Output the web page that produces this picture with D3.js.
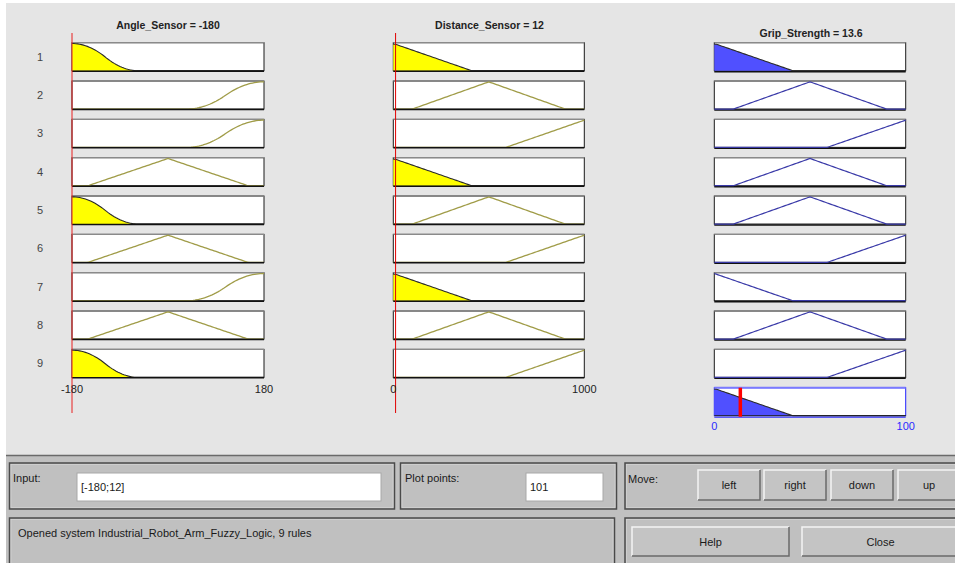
<!DOCTYPE html>
<html><head><meta charset="utf-8">
<script src="https://cdn.jsdelivr.net/npm/d3@7"></script>
<style>
body{margin:0;background:#fff;}
svg{display:block;font-family:"Liberation Sans",Arial,sans-serif;}
</style>
</head><body>
<svg id="c" width="955" height="563"></svg>
<script>
// ---------- data ----------
const ruleIds = [1,2,3,4,5,6,7,8,9];
const ruleAngleMF = ["neg","pos","pos","zero","neg","zero","pos","zero","neg"];
const ruleDistanceMF = ["near","medium","far","near","medium","far","near","medium","far"];
const ruleGripMF = ["low","medium","high","medium","medium","high","low","medium","high"];

const angleNames = ["neg","zero","pos"];
const angleTypes = ["zmf","trimf","smf"];
const angleParams = [[-180,-55],[-150,0,150],[35,180]];
const distanceNames = ["near","medium","far"];
const distanceTypes = ["trimf","trimf","trimf"];
const distanceParams = [[-410,0,410],[100,500,900],[590,1000,1400]];
const gripNames = ["low","medium","high"];
const gripTypes = ["trimf","trimf","trimf"];
const gripParams = [[-41,0,41],[10,50,90],[59,100,141]];

const angleRange = [-180,180];
const distanceRange = [0,1000];
const gripRange = [0,100];
const angleTickLabels = ["-180","180"];
const distanceTickLabels = ["0","1000"];
const gripTickLabels = ["0","100"];

const inputValues = [-180, 12];
const outputValue = 13.6;
const plotPoints = 101;
const titles = ["Angle_Sensor = -180","Distance_Sensor = 12","Grip_Strength = 13.6"];
const statusText = "Opened system Industrial_Robot_Arm_Fuzzy_Logic, 9 rules";
const moveButtons = ["left","right","down","up"];

// ---------- membership functions ----------
function mf(type, p, x){
  if(type==="trimf"){
    const [a,b,c]=p;
    let l = (b===a)? (x>=a?1:0) : (x-a)/(b-a);
    let r = (c===b)? (x<=c?1:0) : (c-x)/(c-b);
    return Math.max(0, Math.min(l, r, 1));
  }
  if(type==="zmf"){
    const [a,b]=p, m=(a+b)/2;
    if(x<=a) return 1;
    if(x<=m) return 1-2*Math.pow((x-a)/(b-a),2);
    if(x<=b) return 2*Math.pow((x-b)/(b-a),2);
    return 0;
  }
  if(type==="smf"){
    const [a,b]=p, m=(a+b)/2;
    if(x<=a) return 0;
    if(x<=m) return 2*Math.pow((x-a)/(b-a),2);
    if(x<=b) return 1-2*Math.pow((x-b)/(b-a),2);
    return 1;
  }
  return 0;
}
function getMF(names, types, params, name){
  const i = names.indexOf(name);
  return x => mf(types[i], params[i], x);
}
function samples(range){
  return d3.range(plotPoints).map(i => range[0] + (range[1]-range[0])*i/(plotPoints-1));
}

// ---------- layout ----------
const svg = d3.select("#c");
svg.append("rect").attr("x",6).attr("y",3).attr("width",949).attr("height",452).attr("fill","#e5e5e5");
svg.append("rect").attr("x",6).attr("y",455).attr("width",949).attr("height",108).attr("fill","#c0c0c0");
svg.append("line").attr("x1",6).attr("x2",955).attr("y1",455.5).attr("y2",455.5).attr("stroke","#6a6a6a").attr("stroke-width",1.5);

const xA = d3.scaleLinear().domain(angleRange).range([72,264]);
const xD = d3.scaleLinear().domain(distanceRange).range([393.3,584.3]);
const xG = d3.scaleLinear().domain(gripRange).range([714.3,905.7]);
const rowTop = d3.scaleLinear().domain([0,9]).range([42.7,387.7]);
const boxH = 28;

const firingA = ruleAngleMF.map(n => getMF(angleNames,angleTypes,angleParams,n)(inputValues[0]));
const firingD = ruleDistanceMF.map(n => getMF(distanceNames,distanceTypes,distanceParams,n)(inputValues[1]));
const firing = firingA.map((v,i)=>Math.min(v, firingD[i]));

function drawBox(x, r, lineColor, fillColor, fn, level, isOut){
  const top = rowTop(r), bot = top+boxH;
  const y = d3.scaleLinear().domain([0,1]).range([bot, top+0.8]);
  const g = svg.append("g");
  const x0 = x.range()[0], x1 = x.range()[1];
  g.append("rect").attr("x",x0).attr("y",top).attr("width",x1-x0).attr("height",boxH)
    .attr("fill","#fff").attr("stroke","#1a1a1a").attr("stroke-width",1);
  g.append("line").attr("x1",x0).attr("x2",x1).attr("y1",top).attr("y2",top).attr("stroke","#8a8a8a").attr("stroke-width",1.3);
  if(isOut){
    g.append("line").attr("x1",x0).attr("x2",x1).attr("y1",bot+1).attr("y2",bot+1).attr("stroke","#111").attr("stroke-width",1.5);
  }
  const xs = samples(x.domain());
  const line = d3.line().x(d=>x(d[0])).y(d=>y(d[1]));
  const area = d3.area().x(d=>x(d[0])).y0(bot).y1(d=>y(d[1]));
  if(level>0){
    const pts = xs.map(v=>[v, Math.min(level, fn(v))]);
    g.append("path").attr("d",area(pts)).attr("fill",fillColor).attr("stroke","none");
    g.append("path").attr("d",line(pts)).attr("fill","none").attr("stroke","#2a2a2a").attr("stroke-width",1.1);
  } else {
    const pts = xs.map(v=>[v, fn(v)]);
    g.append("path").attr("d",line(pts)).attr("fill","none").attr("stroke",lineColor).attr("stroke-width",isOut?1.2:1.3);
  }
  if(!isOut){
    g.append("line").attr("x1",x0).attr("x2",x1).attr("y1",bot+0.5).attr("y2",bot+0.5).attr("stroke","#111").attr("stroke-width",1.5);
  }
}

ruleIds.forEach((id,r)=>{
  const fa = getMF(angleNames,angleTypes,angleParams,ruleAngleMF[r]);
  drawBox(xA,r,"#a09c48","#ffff00",fa,firingA[r],false);
  const fd = getMF(distanceNames,distanceTypes,distanceParams,ruleDistanceMF[r]);
  drawBox(xD,r,"#a09c48","#ffff00",fd,firingD[r],false);
  const fg = getMF(gripNames,gripTypes,gripParams,ruleGripMF[r]);
  drawBox(xG,r,"#3a3aa8","#5050ff",fg,firing[r],true);
  svg.append("text").attr("x",40).attr("y",rowTop(r)+boxH/2+4).attr("text-anchor","middle")
    .attr("font-size",11).attr("fill","#444").text(id);
});

// aggregate output
{
  const top = rowTop(9), bot = top+boxH;
  const y = d3.scaleLinear().domain([0,1]).range([bot, top+0.8]);
  const xs = samples(gripRange);
  const pts = xs.map(v=>[v, d3.max(ruleIds, (id,i)=>Math.min(firing[i], getMF(gripNames,gripTypes,gripParams,ruleGripMF[i])(v)))]);
  svg.append("rect").attr("x",xG.range()[0]).attr("y",top).attr("width",xG.range()[1]-xG.range()[0]).attr("height",boxH)
    .attr("fill","#fff").attr("stroke","#2020ff").attr("stroke-width",1);
  svg.append("line").attr("x1",xG.range()[0]).attr("x2",xG.range()[1]).attr("y1",top).attr("y2",top).attr("stroke","#7a7aff").attr("stroke-width",2);
  svg.append("path").attr("d",d3.area().x(d=>xG(d[0])).y0(bot).y1(d=>y(d[1]))(pts)).attr("fill","#5050ff");
  svg.append("path").attr("d",d3.line().x(d=>xG(d[0])).y(d=>y(d[1]))(pts)).attr("fill","none").attr("stroke","#2a2a2a").attr("stroke-width",1.1);
  svg.append("line").attr("x1",xG.range()[0]).attr("x2",xG.range()[1]).attr("y1",bot).attr("y2",bot).attr("stroke","#222").attr("stroke-width",1);
  svg.append("line").attr("x1",xG.range()[0]).attr("x2",xG.range()[1]).attr("y1",bot+1.5).attr("y2",bot+1.5).attr("stroke","#2020ff").attr("stroke-width",1);
  svg.append("line").attr("x1",xG(outputValue)).attr("x2",xG(outputValue)).attr("y1",top).attr("y2",bot+1)
    .attr("stroke","#ff0000").attr("stroke-width",3.5);
}

// input red lines
svg.append("line").attr("x1",xA(inputValues[0])).attr("x2",xA(inputValues[0])).attr("y1",33).attr("y2",413).attr("stroke","#e82020").attr("stroke-width",1);
svg.append("line").attr("x1",xD(inputValues[1])).attr("x2",xD(inputValues[1])).attr("y1",33).attr("y2",413).attr("stroke","#e00000").attr("stroke-width",1);

// titles
const titleX = [168, 489.5, 811];
const titleY = [29, 29, 37];
titles.forEach((t,i)=>svg.append("text").attr("x",titleX[i]).attr("y",titleY[i]).attr("text-anchor","middle")
  .attr("font-size",10.5).attr("font-weight","bold").attr("fill","#222").text(t));

// tick labels
function ticks(x, labels, yv, color){
  x.domain().forEach((d,i)=>svg.append("text").attr("x",x(d)).attr("y",yv).attr("text-anchor","middle")
    .attr("font-size",11).attr("fill",color).text(labels[i]));
}
ticks(xA, angleTickLabels, 393, "#222");
ticks(xD, distanceTickLabels, 393, "#222");
ticks(xG, gripTickLabels, 430, "#2a2aff");

// ---------- bottom controls ----------
function panel(x,y,w,h){
  svg.append("rect").attr("x",x).attr("y",y).attr("width",w).attr("height",h).attr("fill","#c0c0c0")
    .attr("stroke","#4a4a4a").attr("stroke-width",1.5);
  svg.append("rect").attr("x",x+1.5).attr("y",y+1.5).attr("width",w-3).attr("height",h-3).attr("fill","none")
    .attr("stroke","#d8d8d8").attr("stroke-width",0.6);
}
function label(x,y,t,anchor){
  svg.append("text").attr("x",x).attr("y",y).attr("font-size",11).attr("fill","#1a1a1a")
    .attr("text-anchor",anchor||"start").text(t);
}
function textbox(x,y,w,h,t){
  svg.append("rect").attr("x",x).attr("y",y).attr("width",w).attr("height",h).attr("fill","#fff").attr("stroke","#a8a8a8");
  label(x+4,y+h/2+4,t);
}
function button(x,y,w,h,t){
  svg.append("rect").attr("x",x).attr("y",y).attr("width",w).attr("height",h).attr("fill","#c4c4c4");
  svg.append("path").attr("d",`M${x},${y+h}V${y}H${x+w}`).attr("fill","none").attr("stroke","#f4f4f4").attr("stroke-width",1.5);
  svg.append("path").attr("d",`M${x},${y+h}H${x+w}V${y}`).attr("fill","none").attr("stroke","#6a6a6a").attr("stroke-width",1.5);
  label(x+w/2,y+h/2+4,t,"middle");
}
panel(9.5,463,385,46);
label(13,482,"Input:");
textbox(77,473,304,28,"[" + inputValues.join(";") + "]");
panel(400.5,463,216,46);
label(405,482,"Plot points:");
textbox(526,473,77,28,String(plotPoints));
panel(625,463,340,46);
label(628,483,"Move:");
const bx = [698,764,831,898];
moveButtons.forEach((b,i)=>button(bx[i],470,62,30,b));
panel(9.5,518,605,60);
label(18,537,statusText);
panel(625,518,340,60);
button(632,527,157,29,"Help");
button(802,527,157,29,"Close");
</script>
</body></html>
